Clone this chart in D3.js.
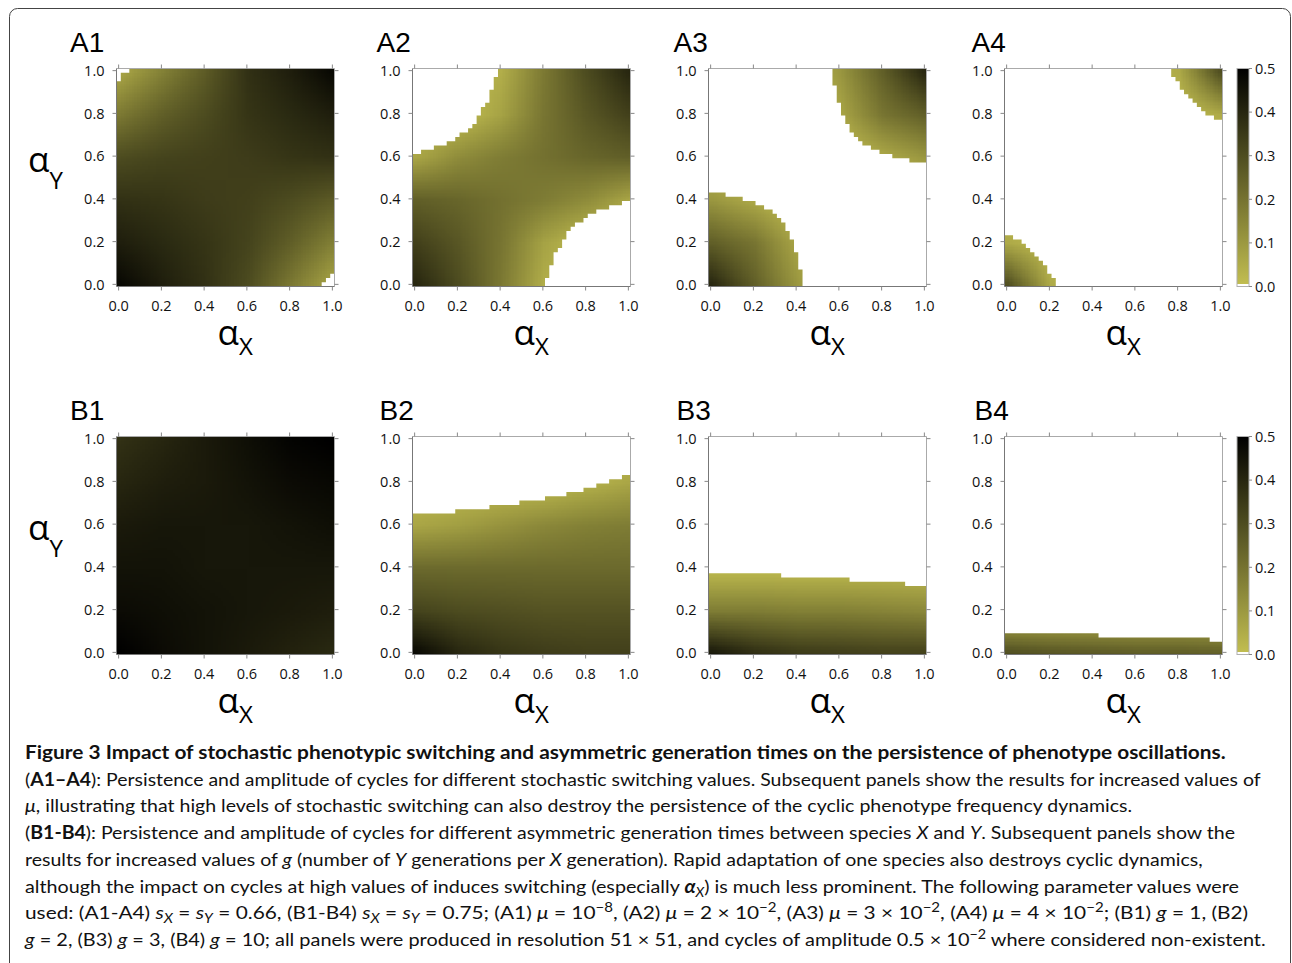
<!DOCTYPE html>
<html>
<head>
<meta charset="utf-8">
<title>Figure 3</title>
<script src="https://d3js.org/d3.v7.min.js"></script>
<style>
  body { margin: 0; background: #fff; }
  svg { display: block; }
</style>
</head>
<body>
<div id="fig"></div>
<script>
// ---------- data ----------
const panelNames = ["A1", "A2", "A3", "A4", "B1", "B2", "B3", "B4"];
const axisTicks = [0, 0.2, 0.4, 0.6, 0.8, 1.0];
const colorTicks = [0, 0.1, 0.2, 0.3, 0.4, 0.5];
const gridAlpha = [0, 0.2, 0.4, 0.6, 0.8, 1.0];

// amplitude sampled at gridAlpha x gridAlpha, rows = alphaY from 0 upward, null = no cycles
const ampA1 = [
  [0.48, 0.42, 0.37, 0.30, 0.18, 0.06],
  [0.42, 0.39, 0.36, 0.32, 0.25, 0.16],
  [0.37, 0.36, 0.34, 0.33, 0.30, 0.26],
  [0.30, 0.32, 0.33, 0.34, 0.36, 0.37],
  [0.18, 0.25, 0.30, 0.36, 0.39, 0.42],
  [0.06, 0.16, 0.26, 0.37, 0.42, 0.48]
];
const ampA2 = [
  [0.40, 0.30, 0.18, 0.04, null, null],
  [0.33, 0.27, 0.19, 0.07, null, null],
  [0.25, 0.23, 0.20, 0.17, 0.13, 0.06],
  [0.06, 0.13, 0.17, 0.20, 0.23, 0.25],
  [null, null, 0.07, 0.19, 0.27, 0.33],
  [null, null, 0.04, 0.18, 0.30, 0.40]
];
const ampA3 = [
  [0.40, 0.25, 0.10, null, null, null],
  [0.25, 0.19, 0.06, null, null, null],
  [0.10, 0.05, null, null, null, null],
  [null, null, null, null, 0.05, 0.10],
  [null, null, null, 0.06, 0.19, 0.25],
  [null, null, null, 0.10, 0.25, 0.40]
];
const ampA4 = [
  [0.30, 0.05, null, null, null, null],
  [0.05, null, null, null, null, null],
  [null, null, null, null, null, null],
  [null, null, null, null, null, null],
  [null, null, null, null, null, 0.05],
  [null, null, null, null, 0.05, 0.30]
];
const ampB1 = [
  [0.50, 0.47, 0.45, 0.43, 0.41, 0.39],
  [0.47, 0.46, 0.45, 0.44, 0.43, 0.42],
  [0.45, 0.45, 0.44, 0.44, 0.44, 0.44],
  [0.43, 0.44, 0.44, 0.44, 0.45, 0.46],
  [0.40, 0.42, 0.43, 0.45, 0.47, 0.48],
  [0.37, 0.40, 0.43, 0.46, 0.49, 0.50]
];
const ampB2 = [
  [0.48, 0.40, 0.36, 0.34, 0.33, 0.33],
  [0.32, 0.30, 0.29, 0.28, 0.28, 0.28],
  [0.22, 0.22, 0.22, 0.22, 0.22, 0.22],
  [0.06, 0.08, 0.11, 0.14, 0.16, 0.17],
  [null, null, null, null, 0.03, 0.06],
  [null, null, null, null, null, null]
];
const ampB3 = [
  [0.44, 0.38, 0.35, 0.34, 0.33, 0.33],
  [0.17, 0.17, 0.16, 0.16, 0.15, 0.14],
  [null, null, null, null, null, null],
  [null, null, null, null, null, null],
  [null, null, null, null, null, null],
  [null, null, null, null, null, null]
];
const ampB4 = [
  [0.30, 0.28, 0.27, 0.26, 0.26, 0.25],
  [null, null, null, null, null, null],
  [null, null, null, null, null, null],
  [null, null, null, null, null, null],
  [null, null, null, null, null, null],
  [null, null, null, null, null, null]
];

// region with cycles (51 x 51 grid), A row:
// fillLow  = cells filled from the left, listed from row 0 upward
// fillHigh = cells filled from the right, listed from row 50 downward
const fillLowA1 = [48, 49, 50, 51, 51, 51, 51, 51, 51, 51, 51, 51, 51, 51, 51, 51, 51, 51, 51, 51,
  51, 51, 51, 51, 51, 51, 51, 51, 51, 51, 51, 51, 51, 51, 51, 51, 51, 51, 51, 51,
  51, 51, 51, 51, 51, 51, 51, 51];
const fillHighA1 = [48, 50, 50];
const fillLowA2 = [31, 31, 32, 32, 32, 33, 33, 33, 34, 35, 35, 36, 36, 37, 38, 40, 41, 43, 46, 49,
  51, 51, 51, 51, 51, 51, 51, 51, 51, 51, 51];
const fillHighA2 = [31, 31, 32, 32, 32, 33, 33, 33, 34, 35, 35, 36, 36, 37, 38, 40, 41, 43, 46, 49];
const fillLowA3 = [22, 22, 22, 22, 21, 21, 21, 21, 20, 20, 20, 19, 19, 18, 18, 17, 16, 15, 13, 11, 8, 4];
const fillHighA3 = [22, 22, 22, 22, 21, 21, 21, 21, 20, 20, 20, 19, 19, 18, 18, 17, 16, 15, 13, 11, 8, 4];
const fillLowA4 = [12, 12, 11, 10, 10, 9, 8, 7, 6, 5, 4, 2];
const fillHighA4 = [12, 12, 11, 10, 10, 9, 8, 7, 6, 5, 4, 2];

// B row: number of filled rows per column, column 0 to 50
const heightB1 = [51, 51, 51, 51, 51, 51, 51, 51, 51, 51, 51, 51, 51, 51, 51, 51, 51, 51, 51, 51,
  51, 51, 51, 51, 51, 51, 51, 51, 51, 51, 51, 51, 51, 51, 51, 51, 51, 51, 51, 51,
  51, 51, 51, 51, 51, 51, 51, 51, 51, 51, 51];
const heightB2 = [33, 33, 33, 33, 33, 33, 33, 33, 33, 33, 34, 34, 34, 34, 34, 34, 34, 34,
  35, 35, 35, 35, 35, 35, 35, 36, 36, 36, 36, 36, 36, 37, 37, 37, 37, 37,
  38, 38, 38, 38, 39, 39, 39, 40, 40, 40, 41, 41, 41, 42, 42];
const heightB3 = [19, 19, 19, 19, 19, 19, 19, 19, 19, 19, 19, 19, 19, 19, 19, 19, 19,
  18, 18, 18, 18, 18, 18, 18, 18, 18, 18, 18, 18, 18, 18, 18, 18,
  17, 17, 17, 17, 17, 17, 17, 17, 17, 17, 17, 17, 17, 16, 16, 16, 16, 16];
const heightB4 = [5, 5, 5, 5, 5, 5, 5, 5, 5, 5, 5, 5, 5, 5, 5, 5, 5, 5, 5, 5, 5, 5,
  4, 4, 4, 4, 4, 4, 4, 4, 4, 4, 4, 4, 4, 4, 4, 4, 4, 4, 4, 4, 4, 4, 4, 4, 4, 4,
  3, 3, 3];

// ---------- layout ----------
const W = 1292, H = 963;
const plotSize = 218;
const colLeft = [116.5, 412.5, 708.5, 1004.5];
const rowTop = [68.5, 436.5];
const titleDx = [-46.5, -36, -35, -33];

const svg = d3.select("#fig").append("svg").attr("width", W).attr("height", H);
const defs = svg.append("defs");

// outer frame of the figure
svg.append("rect")
  .attr("x", 9.5).attr("y", 8.5)
  .attr("width", 1281).attr("height", 1000)
  .attr("rx", 8)
  .attr("fill", "none").attr("stroke", "#444").attr("stroke-width", 1);

const x = d3.scaleLinear().domain([-0.01, 1.01]).range([0, plotSize]);
const y = d3.scaleLinear().domain([-0.01, 1.01]).range([plotSize, 0]);
const color = d3.scaleLinear().domain([0, 0.5]).range(["#c1bd50", "#000000"]).clamp(true);
const fmt = d3.format(".1f");

function regionA(low, high) {
  const rects = [];
  for (let j = 0; j <= 50; j++) {
    const lo = low[j] || 0, hi = high[50 - j] || 0;
    if (lo > 0) rects.push([0, lo, j, j + 1]);
    if (hi > 0) rects.push([51 - hi, 51, j, j + 1]);
  }
  return rects;
}
function regionB(heights) {
  return heights.map((h, i) => [i, i + 1, 0, h]);
}
// cell edge k sits at k/50 - 0.01
const edge = k => k / 50 - 0.01;
function cellPath(r) {
  const [i0, i1, j0, j1] = r;
  return `M${x(edge(i0))},${y(edge(j1))}H${x(edge(i1))}V${y(edge(j0))}H${x(edge(i0))}Z`;
}

// amplitude samples -> small bitmap, smoothed up by the canvas
const half = (gridAlpha[1] - gridAlpha[0]) / 2;
const imgLo = gridAlpha[0] - half, imgHi = gridAlpha[gridAlpha.length - 1] + half;
function ampImage(amp) {
  const n = gridAlpha.length;
  const small = document.createElement("canvas");
  small.width = n; small.height = n;
  const sctx = small.getContext("2d");
  const img = sctx.createImageData(n, n);
  amp.forEach((r, ri) => r.forEach((v, ci) => {
    const c = d3.rgb(color(v == null ? 0 : v));
    const o = ((n - 1 - ri) * n + ci) * 4;
    img.data[o] = c.r; img.data[o + 1] = c.g; img.data[o + 2] = c.b; img.data[o + 3] = 255;
  }));
  sctx.putImageData(img, 0, 0);
  const size = Math.round(x(imgHi) - x(imgLo));
  const big = document.createElement("canvas");
  big.width = size; big.height = size;
  const bctx = big.getContext("2d");
  bctx.imageSmoothingEnabled = true;
  bctx.imageSmoothingQuality = "low";
  bctx.drawImage(small, 0, 0, size, size);
  return big.toDataURL();
}

const panels = [
  { amp: ampA1, region: regionA(fillLowA1, fillHighA1) },
  { amp: ampA2, region: regionA(fillLowA2, fillHighA2) },
  { amp: ampA3, region: regionA(fillLowA3, fillHighA3) },
  { amp: ampA4, region: regionA(fillLowA4, fillHighA4) },
  { amp: ampB1, region: regionB(heightB1) },
  { amp: ampB2, region: regionB(heightB2) },
  { amp: ampB3, region: regionB(heightB3) },
  { amp: ampB4, region: regionB(heightB4) }
];

const tickFont = "'Open Sans', 'Noto Sans', sans-serif";

panels.forEach((p, n) => {
  const name = panelNames[n];
  const row = Math.floor(n / 4), col = n % 4;
  const g = svg.append("g").attr("transform", `translate(${colLeft[col]},${rowTop[row]})`);

  defs.append("clipPath").attr("id", "clip-" + name)
    .append("path").attr("d", p.region.map(cellPath).join(""));

  g.append("image")
    .attr("href", ampImage(p.amp))
    .attr("x", x(imgLo)).attr("y", y(imgHi))
    .attr("width", x(imgHi) - x(imgLo)).attr("height", y(imgLo) - y(imgHi))
    .attr("preserveAspectRatio", "none")
    .attr("clip-path", `url(#clip-${name})`);

  // frame
  g.append("line").attr("x1", 0).attr("x2", plotSize).attr("y1", 0).attr("y2", 0).attr("stroke", "#aaa");
  g.append("line").attr("x1", plotSize).attr("x2", plotSize).attr("y1", 0).attr("y2", plotSize).attr("stroke", "#aaa");
  g.append("line").attr("x1", 0).attr("x2", 0).attr("y1", 0).attr("y2", plotSize).attr("stroke", "#777");
  g.append("line").attr("x1", 0).attr("x2", plotSize).attr("y1", plotSize).attr("y2", plotSize).attr("stroke", "#777");

  // outward ticks on all four sides
  const tk = g.append("g").attr("stroke", "#888");
  axisTicks.forEach(t => {
    tk.append("line").attr("x1", -4).attr("x2", 0).attr("y1", y(t)).attr("y2", y(t));
    tk.append("line").attr("x1", plotSize).attr("x2", plotSize + 4).attr("y1", y(t)).attr("y2", y(t));
    tk.append("line").attr("y1", plotSize).attr("y2", plotSize + 4).attr("x1", x(t)).attr("x2", x(t));
    tk.append("line").attr("y1", -4).attr("y2", 0).attr("x1", x(t)).attr("x2", x(t));
  });

  // tick labels
  g.append("g").selectAll("text").data(axisTicks).join("text")
    .attr("x", -12).attr("y", d => y(d)).attr("dy", "0.36em")
    .attr("text-anchor", "end")
    .attr("font-family", tickFont).attr("font-size", 14.5).attr("fill", "#111")
    .text(fmt);
  g.append("g").selectAll("text").data(axisTicks).join("text")
    .attr("x", d => x(d)).attr("y", plotSize + 24)
    .attr("text-anchor", "middle")
    .attr("font-family", tickFont).attr("font-size", 14.5).attr("fill", "#111")
    .text(fmt);

  // panel title
  g.append("text")
    .attr("x", titleDx[col] + (row === 1 && col > 0 ? 3 : 0)).attr("y", -16.5)
    .attr("font-family", "'Liberation Sans', Arial, sans-serif")
    .attr("font-size", 28).attr("fill", "#000")
    .text(name);

  // axis titles
  const ax = g.append("text").attr("x", 101).attr("y", 276.5)
    .attr("font-family", tickFont).attr("fill", "#000");
  ax.append("tspan").attr("font-size", 35).text("α");
  ax.append("tspan").attr("font-size", 24).attr("dy", 10).text("X");
  if (col === 0) {
    const ay = g.append("text").attr("x", -88.5).attr("y", 103.5)
      .attr("font-family", tickFont).attr("fill", "#000");
    ay.append("tspan").attr("font-size", 35).text("α");
    ay.append("tspan").attr("font-size", 24).attr("dy", 17).text("Y");
  }
});

// ---------- colour bars ----------
const grad = defs.append("linearGradient").attr("id", "cbar")
  .attr("x1", 0).attr("y1", 1).attr("x2", 0).attr("y2", 0);
colorTicks.forEach(t => grad.append("stop").attr("offset", t / 0.5).attr("stop-color", color(t)));

const cy = d3.scaleLinear().domain([0, 0.5]).range([plotSize, 0]);
rowTop.forEach(top => {
  const cb = svg.append("g").attr("transform", `translate(1237,${top})`);
  cb.append("rect").attr("x", 0).attr("y", cy(0.5)).attr("width", 12)
    .attr("height", cy(0) - cy(0.5) - 2.5)
    .attr("fill", "url(#cbar)");
  cb.append("rect").attr("x", 0).attr("y", cy(0.5)).attr("width", 12)
    .attr("height", cy(0) - cy(0.5))
    .attr("fill", "none").attr("stroke", "#b0b0b0");
  cb.selectAll("line.t").data(colorTicks).join("line")
    .attr("x1", 12).attr("x2", 15).attr("y1", d => cy(d)).attr("y2", d => cy(d))
    .attr("stroke", "#888");
  cb.selectAll("text").data(colorTicks).join("text")
    .attr("x", 18).attr("y", d => cy(d)).attr("dy", "0.36em")
    .attr("font-family", tickFont).attr("font-size", 14.5).attr("fill", "#111")
    .text(fmt);
});

// ---------- caption ----------
const captionLines = [
  [["Figure 3 Impact of stochastic phenotypic switching and asymmetric generation times on the persistence of phenotype oscillations.", "b"]],
  [["(", ""], ["A1–A4", "b"], ["): Persistence and amplitude of cycles for different stochastic switching values. Subsequent panels show the results for increased values of", ""]],
  [["μ", "i"], [", illustrating that high levels of stochastic switching can also destroy the persistence of the cyclic phenotype frequency dynamics.", ""]],
  [["(", ""], ["B1-B4", "b"], ["): Persistence and amplitude of cycles for different asymmetric generation times between species ", ""], ["X", "i"], [" and ", ""], ["Y", "i"], [". Subsequent panels show the", ""]],
  [["results for increased values of ", ""], ["g", "i"], [" (number of ", ""], ["Y", "i"], [" generations per ", ""], ["X", "i"], [" generation). Rapid adaptation of one species also destroys cyclic dynamics,", ""]],
  [["although the impact on cycles at high values of induces switching (especially ", ""], ["α", "bi"], ["X", "sub"], [") is much less prominent. The following parameter values were", ""]],
  [["used: (A1-A4) ", ""], ["s", "i"], ["X", "sub"], [" = ", ""], ["s", "i"], ["Y", "sub"], [" = 0.66, (B1-B4) ", ""], ["s", "i"], ["X", "sub"], [" = ", ""], ["s", "i"], ["Y", "sub"],
   [" = 0.75; (A1) ", ""], ["μ", "i"], [" = 10", ""], ["−8", "sup"], [", (A2) ", ""], ["μ", "i"], [" = 2 × 10", ""], ["−2", "sup"], [", (A3) ", ""], ["μ", "i"], [" = 3 × 10", ""], ["−2", "sup"],
   [", (A4) ", ""], ["μ", "i"], [" = 4 × 10", ""], ["−2", "sup"], ["; (B1) ", ""], ["g", "i"], [" = 1, (B2)", ""]],
  [["g", "i"], [" = 2, (B3) ", ""], ["g", "i"], [" = 3, (B4) ", ""], ["g", "i"], [" = 10; all panels were produced in resolution 51 × 51, and cycles of amplitude 0.5 × 10", ""], ["−2", "sup"], [" where considered non-existent.", ""]]
];
const captionEnds = [1226, 1261, 1133, 1236, 1203, 1240, 1249, 1266];

captionLines.forEach((segs, li) => {
  const baseY = 759 + li * 26.7;
  const t = svg.append("text")
    .attr("font-family", "Lato, 'Open Sans', sans-serif")
    .attr("font-size", 18).attr("fill", "#111");
  let shift = 0;
  segs.forEach(([txt, cls]) => {
    const target = cls === "sub" ? 4 : cls === "sup" ? -7 : 0;
    const ts = t.append("tspan").text(txt);
    if (target !== shift) ts.attr("dy", target - shift);
    shift = target;
    if (cls === "b" || cls === "bi") ts.attr("font-weight", "bold");
    if (cls === "i" || cls === "bi" || cls === "sub") ts.attr("font-style", "italic");
    if (cls === "sub" || cls === "sup") ts.attr("font-size", 13);
  });
  const w = t.node().getComputedTextLength();
  const k = (captionEnds[li] - 25) / w;
  t.attr("transform", `translate(25,${baseY}) scale(${k},1)`);
});
</script>
</body>
</html>
